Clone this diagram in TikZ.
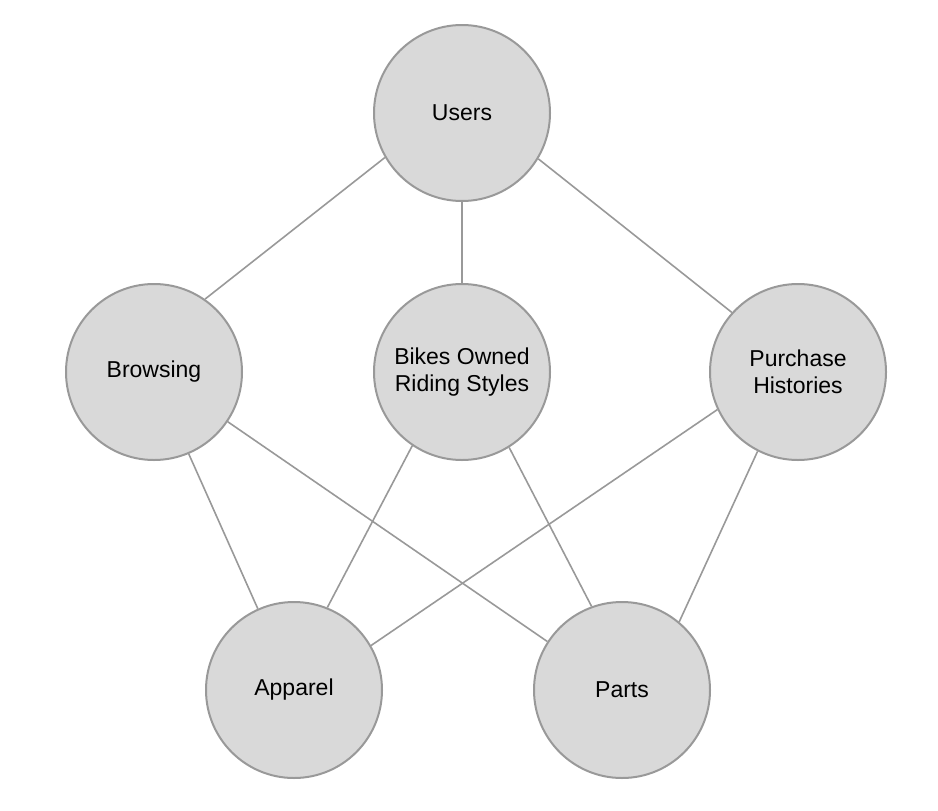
\documentclass[tikz,border=0pt]{standalone}
\usepackage{fontspec}
\setmainfont{Liberation Sans}
\usepackage{tikz}

\definecolor{topicfill}{HTML}{D9D9D9}
\definecolor{topicline}{HTML}{999999}

\begin{document}
\begin{tikzpicture}[
        x=0.75pt, y=-0.75pt,
        topic/.style={circle, draw=topicline, fill=topicfill, line width=1.5pt,
            minimum size=132pt, inner sep=0pt, align=center,
            font=\fontsize{17.25pt}{20.25pt}\selectfont},
        link/.style={draw=topicline, line width=1.2pt}
    ]
    \useasboundingbox (0,0) rectangle (938,810);

    % Top row
    \node[topic] (users) at (462,113) {Users};

    % Middle row
    \node[topic] (browsing) at (154,372) {Browsing};
    \node[topic] (bikes) at (462,372) {Bikes Owned\\Riding Styles};
    \node[topic] (purchase) at (798,372) {Purchase\\Histories};

    % Bottom row
    \node[topic] (apparel) at (294,690) {Apparel};
    \node[topic] (parts) at (622,690) {Parts};

    % Connections
    \draw[link] (users.210) -- (browsing.55); \draw[link] (users.270) -- (bikes.90);
    \draw[link] (users.329) -- (purchase.138);
    \draw[link] (browsing.293) -- (apparel.114); \draw[link] (browsing.326) -- (parts.147);
    \draw[link] (bikes.236) -- (apparel.68); \draw[link] (bikes.302) -- (parts.110);
    \draw[link] (purchase.205) -- (apparel.30); \draw[link] (purchase.243) -- (parts.50);
\end{tikzpicture}
\end{document}
